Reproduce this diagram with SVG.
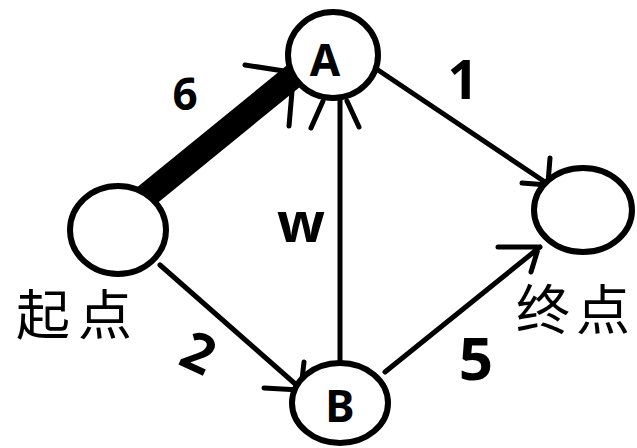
<svg xmlns="http://www.w3.org/2000/svg" width="637" height="448" viewBox="0 0 637 448">
<style>
.node{fill:#fff;stroke:#000;stroke-width:6}
.edge{fill:none;stroke:#000;stroke-width:5;stroke-linecap:round;stroke-linejoin:round}
.lbl{font-family:"Noto Sans","DejaVu Sans",sans-serif;font-weight:bold;fill:#000;text-anchor:middle}
.cjk{font-family:"Noto Sans CJK SC","Noto Sans",sans-serif;font-weight:normal;fill:#000;font-size:54px}
</style>
<rect width="637" height="448" fill="#fff"/>
<g id="connectors">
  <line x1="145" y1="197" x2="296" y2="74" stroke="#000" stroke-width="25" stroke-linecap="butt"/>
  <path class="edge" d="M245 65 L297 73 M293 80 L289 126"/>
  <path class="edge" d="M160 265 L301 389 M264 388 L300 390 M304 362 L301 389"/>
  <path class="edge" d="M340 363 L340 97 M323 101 L311 128 M347 101 L359 127"/>
  <path class="edge" d="M378 70 L548 184 M522 183 L548 185 M550 158 L548 183"/>
  <path class="edge" d="M385 372 L540 247 M498 247 L540 247 M538 249 L531 272"/>
</g>
<g id="start">
  <ellipse class="node" cx="118" cy="230" rx="48" ry="44"/>
  <text class="cjk" x="16" y="335" letter-spacing="8">起点</text>
</g>
<g id="A">
  <ellipse class="node" cx="333" cy="55" rx="45" ry="43"/>
  <text class="lbl" x="325" y="76" font-size="44">A</text>
</g>
<g id="B">
  <ellipse class="node" cx="340" cy="403" rx="48" ry="40"/>
  <text class="lbl" x="340" y="422" font-size="44">B</text>
</g>
<g id="end">
  <ellipse class="node" cx="583" cy="210" rx="49" ry="42"/>
  <text class="cjk" x="516" y="330">终</text>
  <text class="cjk" x="576" y="330">点</text>
</g>
<g id="labels">
  <text class="lbl" x="185" y="110" font-size="44">6</text>
  <text class="lbl" x="463" y="99" font-size="54">1</text>
  <text class="lbl" x="301" y="242" font-size="56">w</text>
  <text class="lbl" x="199" y="372" font-size="54" transform="rotate(25 199 352)">2</text>
  <text class="lbl" x="476" y="380" font-size="60">5</text>
</g>
</svg>
